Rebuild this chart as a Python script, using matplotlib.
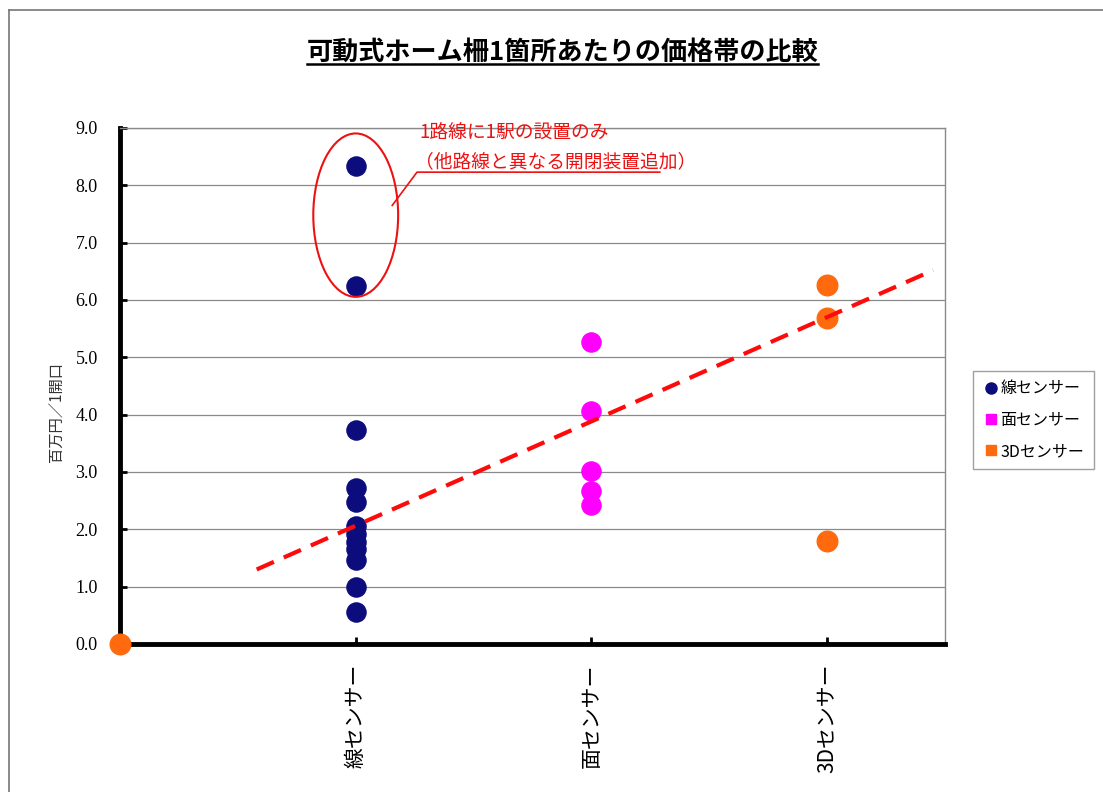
import numpy as np
import matplotlib
matplotlib.use("Agg")
import matplotlib.pyplot as plt
from matplotlib.patches import Ellipse
from matplotlib.lines import Line2D

plt.rcParams["font.family"] = ["Noto Sans CJK JP", "DejaVu Sans"]

# price per opening (million yen) by sensor type
categories = ["線センサー", "面センサー", "3Dセンサー"]
line_sensor = [8.33, 6.25, 3.73, 2.72, 2.48, 2.05, 1.92, 1.78, 1.65, 1.47, 0.99, 0.55]
area_sensor = [5.27, 4.06, 3.02, 2.66, 2.43]
sensor_3d = [6.26, 5.68, 1.80, 0.0]
sensor_3d_x = [3, 3, 3, 0]

trend_x = [0.58, 3.45]
trend_y = [1.30, 6.52]

yticks = np.arange(0, 9.1, 1.0)

navy = "#0c0c7c"
magenta = "#ff00ff"
orange = "#ff6a0f"
note_red = "#ee1111"

fig = plt.figure(figsize=(11.03, 7.92), dpi=100)
ax = fig.add_axes([120 / 1103, 1 - 644 / 792, 825 / 1103, 516 / 792])

ax.set_xlim(0, 3.5)
ax.set_ylim(0, 9)
ax.set_yticks(yticks)
ax.set_yticklabels([f"{v:.1f}" for v in yticks], family="Liberation Serif", fontsize=13)
ax.set_xticks([1, 2, 3])
ax.set_xticklabels(categories, rotation=90, fontsize=15, va="top")
ax.tick_params(axis="both", direction="in", length=5, width=2, color="black")
ax.tick_params(axis="y", pad=16)
ax.tick_params(axis="x", pad=14)

ax.grid(axis="y", color="#8a8a8a", linewidth=0.9)
ax.set_axisbelow(True)
for side in ("top", "right"):
    ax.spines[side].set_color("#8a8a8a")
    ax.spines[side].set_linewidth(1.0)
ax.spines["left"].set_linewidth(3.5)
ax.spines["bottom"].set_linewidth(3.5)

ax.set_ylabel("百万円／1開口", fontsize=11, color="#333333")
ax.yaxis.set_label_coords(-0.066, 0.45)

ax.scatter(np.ones(len(line_sensor)), line_sensor, s=190, color=navy, zorder=3, clip_on=False)
ax.scatter(np.full(len(area_sensor), 2), area_sensor, s=190, color=magenta, zorder=3, clip_on=False)
ax.scatter(sensor_3d_x, sensor_3d, s=220, color=orange, zorder=4, clip_on=False)

ax.plot(trend_x, trend_y, color="#ff0a0a", linewidth=3, dashes=(4.5, 2.6), zorder=4)

# note on the two outliers
ax.add_patch(Ellipse((1, 7.48), 0.36, 2.85, fill=False, edgecolor=note_red, linewidth=1.5, zorder=5))
ax.plot([1.155, 1.26, 2.29], [7.65, 8.23, 8.23], color=note_red, linewidth=1.2, zorder=5)
ax.text(1.27, 8.91, "1路線に1駅の設置のみ", color=note_red, fontsize=13.5, va="center")
ax.text(1.25, 8.42, "（他路線と異なる開閉装置追加）", color=note_red, fontsize=13.5, va="center")

handles = [
    Line2D([], [], marker="o", linestyle="", color=navy, markersize=8),
    Line2D([], [], marker="s", linestyle="", color=magenta, markersize=7),
    Line2D([], [], marker="s", linestyle="", color=orange, markersize=7),
]
fig.legend(handles, categories, loc="center left", bbox_to_anchor=(965 / 1103, 1 - 420 / 792),
           frameon=True, fancybox=False, edgecolor="#888888", fontsize=11.5,
           handletextpad=0.1, borderpad=0.6, labelspacing=0.9, handlelength=1.0)

title = fig.text(0.510, 1 - 52 / 792, "可動式ホーム柵1箇所あたりの価格帯の比較",
                 ha="center", va="center", fontsize=18.8, fontweight="bold")

# underline the title
fig.canvas.draw()
bb = title.get_window_extent().transformed(fig.transFigure.inverted())
fig.add_artist(Line2D([bb.x0, bb.x1], [bb.y0 + 0.002, bb.y0 + 0.002], color="black", linewidth=1.8))

# outer frame edges
fig.add_artist(Line2D([9 / 1103, 9 / 1103], [0, 1 - 10 / 792], color="#777777", linewidth=1.2))
fig.add_artist(Line2D([9 / 1103, 1], [1 - 10 / 792, 1 - 10 / 792], color="#777777", linewidth=1.2))

fig.savefig("out.png", dpi=100)
